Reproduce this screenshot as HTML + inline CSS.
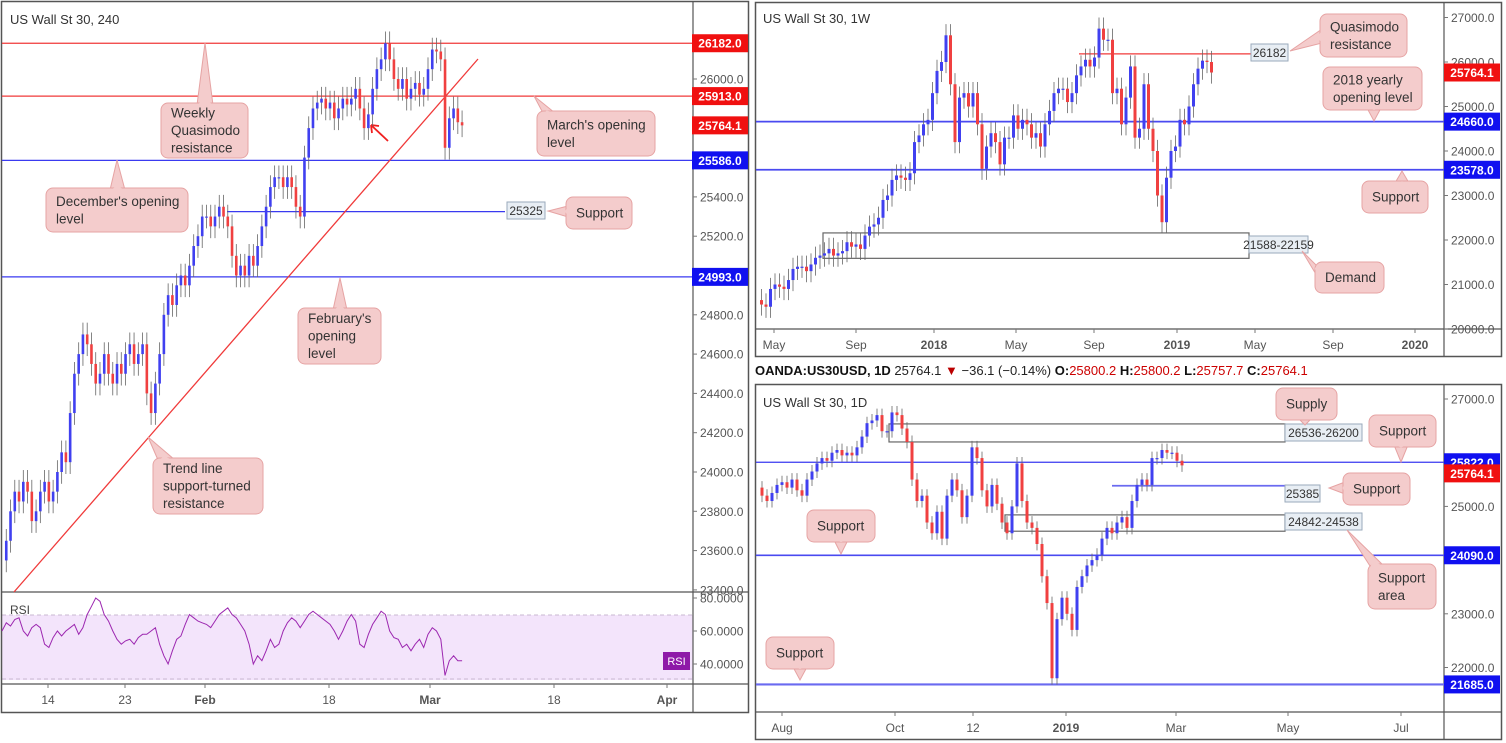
<!DOCTYPE html>
<html><head><meta charset="utf-8"><style>
html,body{margin:0;padding:0;background:#fff;width:1506px;height:743px;overflow:hidden}
svg{display:block;font-family:"Liberation Sans",sans-serif}
</style></head><body>
<svg id="s" width="1506" height="743" viewBox="0 0 1506 743" xmlns="http://www.w3.org/2000/svg">
<rect x="0" y="0" width="1506" height="743" fill="#fff"/>
<!-- RSI band -->
<rect x="2" y="615" width="691" height="65" fill="#f3e4fb"/>
<line x1="2" y1="615" x2="693" y2="615" stroke="#c8b8d0" stroke-dasharray="4,3"/>
<line x1="2" y1="679" x2="693" y2="679" stroke="#c8b8d0" stroke-dasharray="4,3"/>
<g id="g"></g>
</svg>
<script>
// ---------- DATA ----------
const h4Closes=[23550,23650,23800,23900,23850,23950,23900,23750,23800,23900,23950,23850,23900,24000,24100,24050,24300,24500,24600,24700,24650,24550,24450,24500,24600,24500,24450,24550,24500,24600,24650,24550,24600,24650,24400,24300,24450,24600,24800,24900,24850,24950,25000,24950,25050,25150,25200,25300,25300,25250,25300,25350,25300,25250,25100,25000,25050,25000,25100,25050,25150,25250,25350,25450,25500,25500,25450,25500,25450,25350,25300,25600,25750,25850,25880,25900,25850,25880,25800,25850,25900,25870,25900,25950,25850,25750,25820,25950,26050,26100,26182,26100,26000,25950,26000,25900,25950,25980,25920,25950,26050,26150,26140,26100,25650,25800,25850,25780,25764];
const rsiValues=[60,65,63,67,68,60,57,62,64,62,52,50,56,60,57,60,62,64,58,62,70,75,80,78,70,66,60,55,52,54,55,52,56,58,58,60,62,52,45,40,48,55,57,64,70,68,66,65,64,62,66,70,72,74,70,68,64,60,52,40,45,42,48,55,50,52,60,65,68,66,62,66,70,72,70,68,66,64,60,55,60,66,70,66,52,50,58,64,68,72,70,60,56,55,50,52,48,52,55,50,58,62,60,55,33,42,45,42,42];
const wkCloses=[20650,20550,20500,20900,21000,20950,20900,21100,21350,21400,21400,21300,21450,21600,21650,21700,21800,21650,21700,21750,21950,21850,21900,21800,22100,22300,22350,22500,22900,23000,23350,23450,23400,23350,23500,24200,24350,24600,24700,25300,25800,26000,26600,25500,24200,25200,25300,25000,25300,24600,23600,24100,24400,24200,23700,24300,24300,24800,24500,24700,24600,24300,24400,24100,24600,24900,25300,25400,25400,25100,25300,25700,25900,26050,25900,26100,26750,26500,26500,25300,25400,24600,25200,25900,24300,24500,25500,24500,24000,23000,22400,23400,24000,24100,24700,24600,25000,25500,25850,26030,26000,25764];
const dCloses=[25350,25200,25100,25250,25400,25450,25350,25500,25300,25200,25500,25650,25800,25900,25850,26000,26050,25950,26000,25950,26100,26300,26550,26600,26700,26400,26400,26750,26700,26450,26200,25500,25100,25200,24700,24500,24900,24400,25200,25500,25300,24800,25200,26100,25900,25300,25000,25400,25050,24700,24500,25000,25800,25100,24700,24600,24300,23700,23200,21800,22900,23300,23000,22700,23500,23700,23900,24000,24100,24400,24600,24500,24700,24800,24600,25100,25400,25500,25400,25900,25900,26050,26000,26000,25850,25764];
const h4Ticks=[26000,25400,25200,24800,24600,24400,24200,24000,23800,23600,23400];
const wkTicks=[27000,26000,25000,24000,23000,22000,21000,20000];
const dTicks=[27000,25000,23000,22000];
const h4TimeLabels=["14","23","Feb","18","Mar","18","Apr"];
const wkTimeLabels=["May","Sep","2018","May","Sep","2019","May","Sep","2020"];
const dTimeLabels=["Aug","Oct","12","2019","Mar","May","Jul"];

// ---------- AXES ----------
const yH4=p=>79+(26000-p)*0.1965;
const yRsi=v=>598+(80-v)*1.65;
const yWk=p=>17.5+(27000-p)*0.0445;
const yD=p=>399+(27000-p)*0.0537;
const xH4=i=>2+i*4.26;
const xWk=i=>757+i*4.5;
const xD=i=>757+i*5;

const NS="http://www.w3.org/2000/svg";
const G=document.getElementById('g');
function mk(tag,attrs,parent){const e=document.createElementNS(NS,tag);for(const k in attrs)e.setAttribute(k,attrs[k]);(parent||G).appendChild(e);return e;}
function txt(x,y,s,attrs){const e=mk('text',Object.assign({x:x,y:y,'font-size':13,fill:'#333'},attrs||{}));e.textContent=s;return e;}

// panel frames
let f;
f=mk('rect',{x:1.5,y:1.5,width:747,height:711,fill:'none',stroke:'#555','stroke-width':1.5});


f=mk('rect',{x:755.5,y:2.5,width:746,height:354,fill:'none',stroke:'#555','stroke-width':1.5});


f=mk('rect',{x:755.5,y:384.5,width:746,height:355,fill:'none',stroke:'#555','stroke-width':1.5});


[[693,1,693,712],[1,592,748,592],[1,684,748,684],[1444,2,1444,356],[755,329,1502,329],[1444,384,1444,740],[755,712,1502,712]].forEach(l=>{mk('line',{x1:l[0],y1:l[1],x2:l[2],y2:l[3],stroke:'#555','stroke-width':1.2});});

// titles
f=txt(10,24,'US Wall St 30, 240');


f=txt(763,23,'US Wall St 30, 1W');


f=txt(763,407,'US Wall St 30, 1D');



// ticks
function priceTicks(ticks,yf,ax,ymin,ymax,name){ticks.forEach(t=>{const y=yf(t);if(y<ymin||y>ymax)return;mk('line',{x1:ax,y1:y,x2:ax+4,y2:y,stroke:'#777'});const e=txt(ax+7,y+4.5,t.toFixed(1),{'font-size':12,fill:'#555'});

});}
priceTicks(h4Ticks,yH4,693,5,590,'h4');
priceTicks(wkTicks,yWk,1444,5,332,'weekly');
priceTicks(dTicks,yD,1444,388,712,'daily');
[[80,'80.0000'],[60,'60.0000'],[40,'40.0000']].forEach(r=>{const y=yRsi(r[0]);mk('line',{x1:693,y1:y,x2:697,y2:y,stroke:'#777'});const e=txt(700,y+4.5,r[1],{'font-size':12,fill:'#555'});

});

function timeLabels(labels,xs,yAxis,yText,name,bold){labels.forEach((l,i)=>{mk('line',{x1:xs[i],y1:yAxis,x2:xs[i],y2:yAxis+4,stroke:'#777'});const e=txt(xs[i],yText,l,{'font-size':12,fill:'#555','text-anchor':'middle','font-weight':bold.indexOf(l)>=0?'bold':'normal'});

});}
timeLabels(h4TimeLabels,[48,125,205,329,430,554,667],684,704,'h4',['Feb','Mar','Apr']);
timeLabels(wkTimeLabels,[774,856,934,1016,1094,1177,1255,1333,1415],329,349,'weekly',['2018','2019','2020']);
timeLabels(dTimeLabels,[782,895,973,1066,1176,1288,1401],712,732,'daily',['2019']);

// horizontal levels
function hline(x1,x2,y,color,name,w){const e=mk('line',{x1:x1,y1:y,x2:x2,y2:y,stroke:color,'stroke-width':w||1.3});

}
hline(2,693,yH4(26182),'#f03a3a','h4-level-26182');
hline(2,693,yH4(25913),'#f03a3a','h4-level-25913');
hline(2,693,yH4(25586),'#3a3af0','h4-level-25586');
hline(2,693,yH4(24993),'#3a3af0','h4-level-24993');
hline(227,505,yH4(25325),'#3a3af0','h4-level-25325');
hline(1079,1252,yWk(26182),'#f03a3a','weekly-level-26182');
hline(756,1444,yWk(24660),'#4a4af0','weekly-level-24660',1.8);
hline(756,1444,yWk(23578),'#4a4af0','weekly-level-23578',1.8);
hline(756,1444,yD(25822),'#3a3af0','daily-level-25822');
hline(756,1444,yD(24090),'#4a4af0','daily-level-24090',1.6);
hline(756,1444,yD(21685),'#6a6af0','daily-level-21685',2.2);
hline(1112,1285,yD(25385),'#6a6af0','daily-level-25385',1.8);

// zones
function zone(x1,x2,p1,p2,yf,name){const a=yf(p1),b=yf(p2);const e=mk('rect',{x:x1,y:Math.min(a,b),width:x2-x1,height:Math.abs(b-a),fill:'none',stroke:'#666','stroke-width':1.2});

}
zone(823,1249,22159,21588,yWk,'weekly-demand-zone');
zone(889,1285,26536,26200,yD,'daily-supply-zone');
zone(1005,1285,24842,24538,yD,'daily-support-area-zone');

// trend line
f=mk('line',{x1:14,y1:592,x2:478,y2:59,stroke:'#f03a3a','stroke-width':1.3});


// red arrow
f=mk('path',{d:'M388,141 L371,125 M371,125 L372,133 M371,125 L379,126',stroke:'#f02020','stroke-width':1.8,fill:'none'});



// candles
function candles(closes,xf,yf,w,wick,name){for(let i=1;i<closes.length;i++){const o=closes[i-1],c=closes[i];const up=c>=o;const col=up?'#4040f0':'#f04040';const x=xf(i);
const hi=Math.max(o,c)+wick,lo=Math.min(o,c)-wick;
const wl=mk('line',{x1:x,y1:yf(hi),x2:x,y2:yf(lo),stroke:'#666','stroke-width':0.8});


const t=Math.min(yf(o),yf(c)),h=Math.max(1.2,Math.abs(yf(o)-yf(c)));
const b=mk('rect',{x:x-w/2,y:t,width:w,height:h,fill:col});

}}
candles(h4Closes,xH4,yH4,2.6,60,'h4');
candles(wkCloses,xWk,yWk,3,250,'weekly');
candles(dCloses,xD,yD,3,120,'daily');

// RSI
let pts=rsiValues.map((v,i)=>xH4(i).toFixed(1)+','+yRsi(v).toFixed(1)).join(' ');
f=mk('polyline',{points:pts,fill:'none',stroke:'#9c27b0','stroke-width':1});


f=txt(10,614,'RSI',{'font-size':12,fill:'#444'});


f=mk('rect',{x:663,y:652,width:27,height:18,fill:'#8e1aa8'});


f=txt(676.5,665,'RSI',{'font-size':11,fill:'#fff','text-anchor':'middle'});



// axis price labels
function plabel(x,y,s,col,name){const r=mk('rect',{x:x,y:y-9,width:56,height:18,fill:col});


const e=txt(x+28,y+4.5,s,{'font-size':12,fill:'#fff','text-anchor':'middle','font-weight':'bold'});

}
plabel(692,yH4(26182),'26182.0','#f01010','h4-price-label-26182');
plabel(692,yH4(25913),'25913.0','#f01010','h4-price-label-25913');
plabel(692,yH4(25764.1),'25764.1','#f01010','h4-price-label-last');
plabel(692,yH4(25586),'25586.0','#1010f0','h4-price-label-25586');
plabel(692,yH4(24993),'24993.0','#1010f0','h4-price-label-24993');
plabel(1444,yWk(25764.1),'25764.1','#f01010','weekly-price-label-last');
plabel(1444,yWk(24660),'24660.0','#1010f0','weekly-price-label-24660');
plabel(1444,yWk(23578),'23578.0','#1010f0','weekly-price-label-23578');
plabel(1444,yD(25822),'25822.0','#1010f0','daily-price-label-25822');
plabel(1444,yD(25764.1)+8,'25764.1','#f01010','daily-price-label-last');
plabel(1444,yD(24090),'24090.0','#1010f0','daily-price-label-24090');
plabel(1444,yD(21685),'21685.0','#1010f0','daily-price-label-21685');

// value tags
function tag(x,y,w,s,name){const r=mk('rect',{x:x,y:y,width:w,height:17,fill:'#e8eef4',stroke:'#9aaabb'});


const e=txt(x+w/2,y+13,s,{'font-size':12,fill:'#333','text-anchor':'middle'});

}
tag(507,202,38,'25325','h4-tag-25325');
tag(1251,44,37,'26182','weekly-tag-26182');
tag(1249,236,59,'21588-22159','weekly-tag-demand');
tag(1285,424,77,'26536-26200','daily-tag-supply');
tag(1285,485,35,'25385','daily-tag-25385');
tag(1285,513,77,'24842-24538','daily-tag-support-area');

// callouts
function callout(x,y,w,h,tip,base,lines,name){
const fill='#f4cccc',st='#e6a3a3';
const g=mk('g',{});


mk('polygon',{points:base[0]+','+base[1]+' '+tip[0]+','+tip[1]+' '+base[2]+','+base[3],fill:fill,stroke:st},g);
mk('rect',{x:x,y:y,width:w,height:h,rx:7,fill:fill,stroke:st},g);
const cx=(base[0]+base[2])/2,cy=(base[1]+base[3])/2;
mk('polygon',{points:(base[0]+(cx-base[0])*0.1)+','+(base[1]+(cy-base[1])*0.1)+' '+(cx+(tip[0]-cx)*0.15)+','+(cy+(tip[1]-cy)*0.15)+' '+(base[2]+(cx-base[2])*0.1)+','+(base[3]+(cy-base[3])*0.1),fill:fill},g);
const lh=17.5;const y0=y+h/2-(lines.length-1)*lh/2+4.5;
lines.forEach((l,i)=>{const e=mk('text',{x:x+10,y:y0+i*lh,'font-size':13.5,fill:'#333'},g);e.textContent=l;});}
callout(161,103,87,55,[205,43],[197,105,213,105],['Weekly','Quasimodo','resistance'],'callout-weekly-quasimodo');
callout(46,188,142,44,[117,160],[110,190,125,190],["December's opening","level"],'callout-december-open');
callout(566,197,66,32,[548,211],[568,206,568,217],['Support'],'callout-h4-support');
callout(537,111,118,45,[534,96],[543,113,555,113],["March's opening","level"],'callout-march-open');
callout(298,308,83,56,[340,278],[333,310,347,310],["February's","opening","level"],'callout-february-open');
callout(153,458,110,56,[148,437],[158,460,175,460],['Trend line','support-turned','resistance'],'callout-trend-line');
callout(1320,14,87,43,[1290,51],[1322,29,1322,43],['Quasimodo','resistance'],'callout-weekly-quasimodo');
callout(1323,67,99,43,[1374,121],[1367,108,1381,108],['2018 yearly','opening level'],'callout-2018-yearly');
callout(1362,181,66,32,[1402,171],[1395,183,1409,183],['Support'],'callout-weekly-support');
callout(1315,262,69,31,[1302,251],[1317,266,1317,276],['Demand'],'callout-demand');
callout(1276,388,61,32,[1305,425],[1298,418,1312,418],['Supply'],'callout-supply');
callout(1369,415,67,32,[1401,462],[1394,445,1408,445],['Support'],'callout-daily-support-top');
callout(1343,473,67,32,[1329,488],[1345,482,1345,494],['Support'],'callout-daily-support-25385');
callout(1368,564,68,45,[1347,530],[1370,566,1384,566],['Support','area'],'callout-support-area');
callout(807,510,68,32,[841,554],[834,540,848,540],['Support'],'callout-daily-support-left');
callout(766,637,68,32,[800,680],[793,667,807,667],['Support'],'callout-daily-support-bottom');

// info line
const info=mk('text',{x:755,y:375,'font-size':13,fill:'#222'});


[['OANDA:US30USD, 1D ','#111','bold'],['25764.1 ','#222','normal'],['▼','#b00','normal'],[' −36.1 (−0.14%) ','#222','normal'],['O:','#111','bold'],['25800.2 ','#c00','normal'],['H:','#111','bold'],['25800.2 ','#c00','normal'],['L:','#111','bold'],['25757.7 ','#c00','normal'],['C:','#111','bold'],['25764.1','#c00','normal']].forEach(p=>{const t=mk('tspan',{fill:p[1],'font-weight':p[2]},info);t.textContent=p[0];});
</script>
</body></html>
